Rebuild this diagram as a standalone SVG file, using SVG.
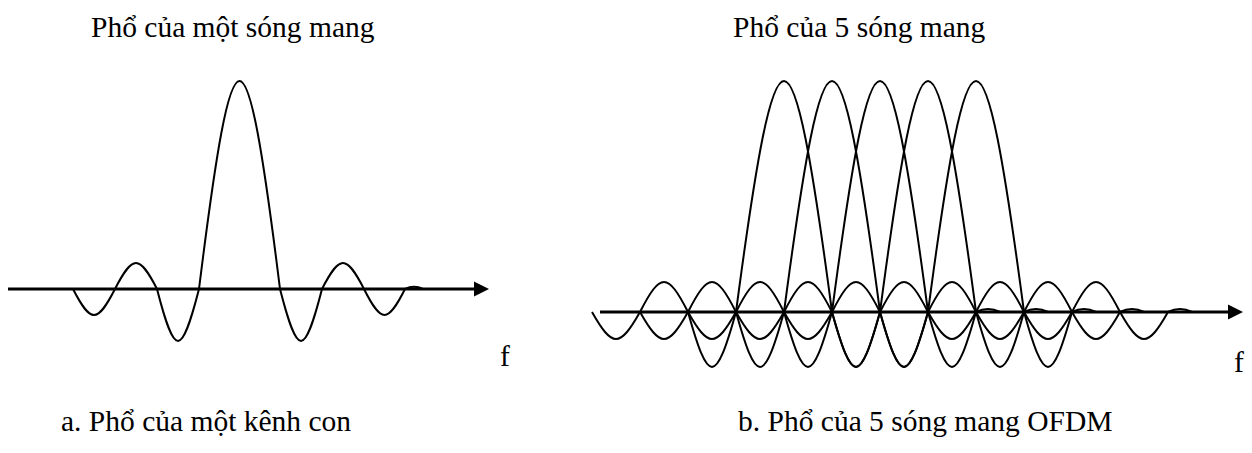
<svg xmlns="http://www.w3.org/2000/svg" width="1252" height="453" viewBox="0 0 1252 453">
  <style>
    .lbl { font-family: "Liberation Serif", "Times New Roman", serif; font-size: 29.5px; fill: #000; }
    .curve { fill: none; stroke: #000; stroke-width: 2; stroke-linejoin: round; }
    .axis { fill: none; stroke: #000; stroke-width: 3; }
    .head { fill: #000; stroke: none; }
  </style>
  <defs>
    <path id="carrier" class="curve" d="M592,312 C612.4,348 619.6,348 640,312 C660.4,272 667.6,272 688,312 C708.4,385.3 715.6,385.3 736,312 C776.7,4 791.3,4 832,312 C852.4,385.3 859.6,385.3 880,312 C900.4,272 907.6,272 928,312 C948.4,348 955.6,348 976,312 C984,308 992,308 1000,312"/>
  </defs>
  <rect width="1252" height="453" fill="#fff"/>

  <g id="spectrum-a">
    <path class="curve" d="M73,289 C90.8,323.7 97.2,323.7 115,289 C132.8,254.3 139.2,254.3 157,289 C174.8,358.3 181.2,358.3 199,289 C233.4,11.7 245.6,11.7 280,289 C297.8,358.3 304.2,358.3 322,289 C339.8,254.3 346.2,254.3 364,289 C381.4,323.7 387.6,323.7 405,289 C411,286 417,286 423,289"/>
  </g>

  <g id="spectrum-b">
    <use href="#carrier"/>
    <use href="#carrier" transform="translate(48,0)"/>
    <use href="#carrier" transform="translate(96,0)"/>
    <use href="#carrier" transform="translate(144,0)"/>
    <use href="#carrier" transform="translate(192,0)"/>
  </g>

  <g id="connectors">
    <g id="axis-a">
      <line class="axis" x1="8" y1="289" x2="476" y2="289"/>
      <polygon class="head" points="474,281.5 489,289 474,296.5"/>
    </g>
    <g id="axis-b">
      <line class="axis" x1="600" y1="312" x2="1230" y2="312"/>
      <polygon class="head" points="1228,304.5 1243,312 1228,319.5"/>
    </g>
  </g>

  <g id="labels">
    <text id="title-a" class="lbl" x="91" y="37">Phổ của một sóng mang</text>
    <text id="title-b" class="lbl" x="733" y="37">Phổ của 5 sóng mang</text>
    <text id="f-a" class="lbl" x="500" y="366">f</text>
    <text id="f-b" class="lbl" x="1234" y="372">f</text>
    <text id="caption-a" class="lbl" x="61" y="431">a. Phổ của một kênh con</text>
    <text id="caption-b" class="lbl" x="738" y="431">b. Phổ của 5 sóng mang OFDM</text>
  </g>
</svg>
